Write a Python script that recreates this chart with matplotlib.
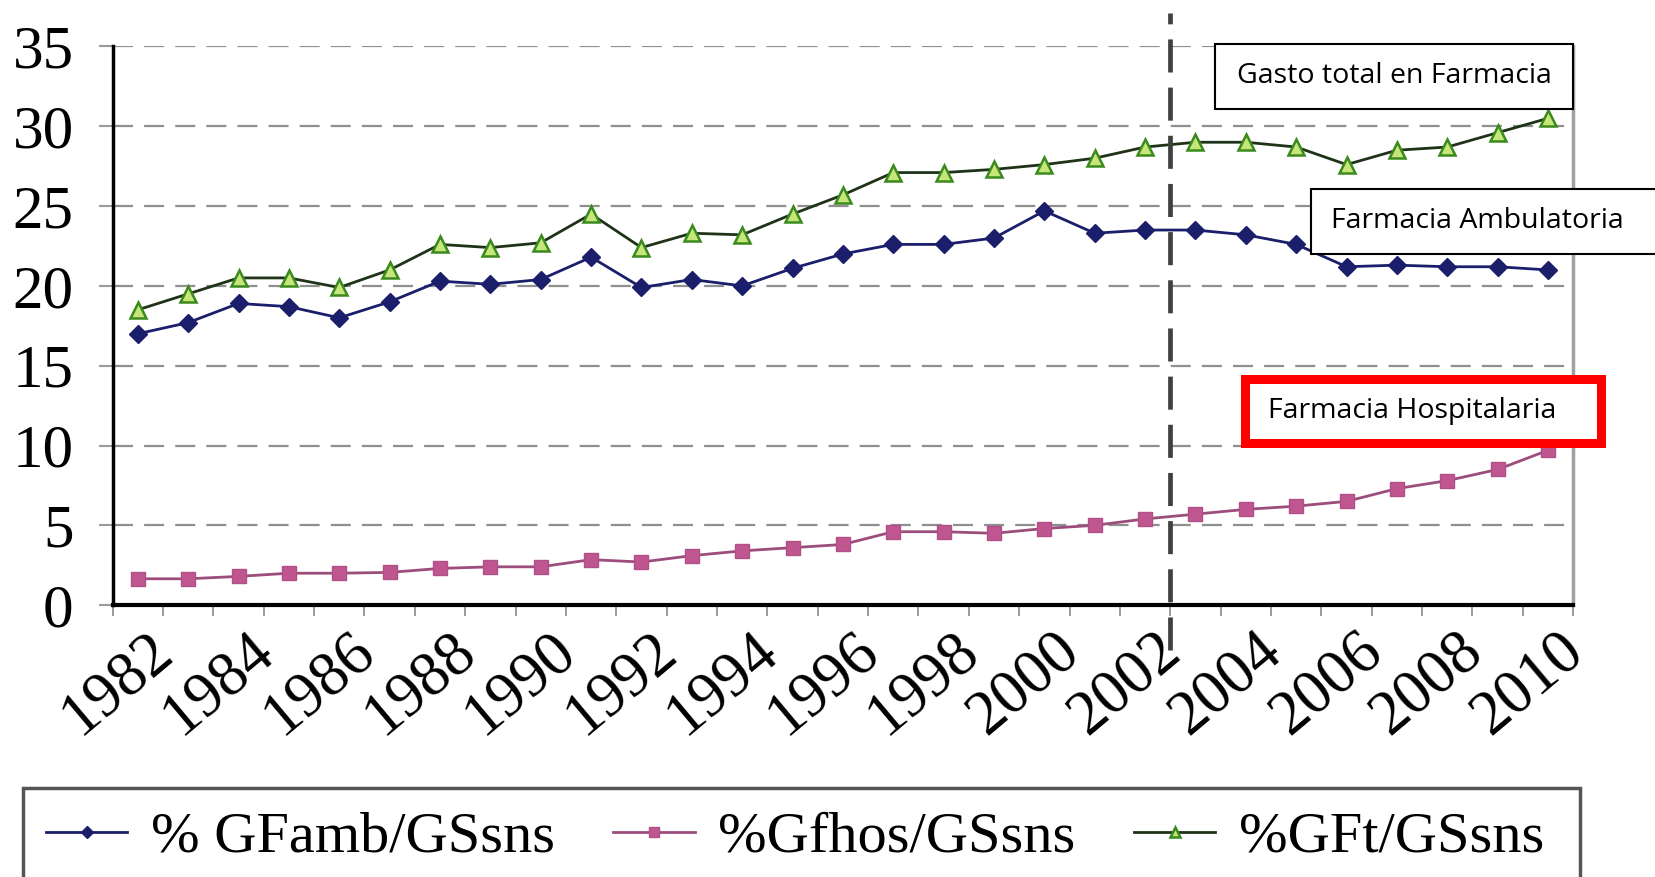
import numpy as np
import matplotlib
matplotlib.use('Agg')
import matplotlib.pyplot as plt
from matplotlib.patches import Rectangle
from matplotlib.transforms import ScaledTranslation

# Years and series (% of public health spending)
years = np.arange(1982, 2011)
gf_amb = [17.0, 17.7, 18.9, 18.7, 18.0, 19.0, 20.3, 20.1, 20.4, 21.8,
          19.9, 20.4, 20.0, 21.1, 22.0, 22.6, 22.6, 23.0, 24.7, 23.3,
          23.5, 23.5, 23.2, 22.6, 21.2, 21.3, 21.2, 21.2, 21.0]
gf_hos = [1.65, 1.65, 1.8, 2.0, 2.0, 2.05, 2.3, 2.4, 2.4, 2.85,
          2.7, 3.1, 3.4, 3.6, 3.8, 4.6, 4.6, 4.5, 4.8, 5.0,
          5.4, 5.7, 6.0, 6.2, 6.5, 7.3, 7.8, 8.5, 9.7]
gf_tot = [18.5, 19.5, 20.5, 20.5, 19.9, 21.0, 22.6, 22.4, 22.7, 24.5,
          22.4, 23.3, 23.2, 24.5, 25.7, 27.1, 27.1, 27.3, 27.6, 28.0,
          28.7, 29.0, 29.0, 28.7, 27.6, 28.5, 28.7, 29.6, 30.5]
series_labels = ['% GFamb/GSsns', '%Gfhos/GSsns', '%GFt/GSsns']
tick_years = np.arange(1982, 2011, 2)
y_ticks = np.arange(0, 36, 5)
split_year = 2002.5

SERIF = ['Liberation Serif', 'DejaVu Serif']
SANS = ['Open Sans', 'DejaVu Sans']

fig = plt.figure(figsize=(16.56, 8.77), dpi=100)
ax = fig.add_axes([0.068, 0.310, 0.882, 0.637])

ax.plot(years, gf_amb, color='#1b1f6b', lw=2.0, marker='D', ms=9,
        mfc='#1b1f6b', mec='#1b1f6b', label=series_labels[0], zorder=4)
ax.plot(years, gf_hos, color='#9c4d7c', lw=2.0, marker='s', ms=10,
        mfc='#c0568f', mec='#b05088', label=series_labels[1], zorder=4)
ax.plot(years, gf_tot, color='#1f3318', lw=2.0, marker='^', ms=12,
        mfc='#c6e67a', mec='#3a8a1e', mew=1.8, label=series_labels[2], zorder=4)

ax.set_xlim(years[0] - 0.5, years[-1] + 0.5)
ax.set_ylim(0, 35)

# dashed horizontal grid
ax.set_yticks(y_ticks)
ax.yaxis.grid(True, linestyle=(0, (9, 5)), color='#8f8f8f', lw=1.6)
ax.set_axisbelow(True)

ax.spines['top'].set_visible(False)
ax.spines['left'].set_linewidth(2.5)
ax.spines['left'].set_color('black')
ax.spines['bottom'].set_linewidth(3)
ax.spines['bottom'].set_color('black')
ax.spines['right'].set_linewidth(2.5)
ax.spines['right'].set_color('#a0a0a0')

ax.tick_params(axis='y', length=10, width=1.5, color='#9a9a9a', pad=18,
               labelsize=44)
for lbl in ax.get_yticklabels():
    lbl.set_family(SERIF)

# x ticks: small marks at category boundaries, labels every 2 years
ax.set_xticks(np.arange(years[0] - 0.5, years[-1] + 1), minor=True)
ax.tick_params(axis='x', which='minor', length=8, width=1.2, color='#8a8a8a')
ax.set_xticks(tick_years)
ax.set_xticklabels([str(y) for y in tick_years], rotation=40, ha='right',
                   va='center', rotation_mode='anchor', family=SERIF,
                   fontsize=45)
ax.tick_params(axis='x', which='major', length=0, pad=28)
offset = ScaledTranslation(28 / 100, 0, fig.dpi_scale_trans)
for lbl in ax.get_xticklabels():
    lbl.set_transform(lbl.get_transform() + offset)

# split line
ax.axvline(split_year, ymin=-0.08, ymax=1.06, clip_on=False, color='#404040',
           lw=3.4, linestyle=(0, (7, 3.2)), zorder=5)

# annotation boxes (figure fractions)
boxes = [
    ((0.7337, 0.8757), 0.2162, 0.0741, 'black', 1.5),
    ((0.7917, 0.7104), 0.2300, 0.0741, 'black', 1.5),
    ((0.7521, 0.4954), 0.2144, 0.0730, '#ff0000', 6.5),
]
for (xy, w, h, ec, lw) in boxes:
    fig.patches.append(Rectangle(xy, w, h, transform=fig.transFigure,
                                 fc='white', ec=ec, lw=lw, zorder=6))
fig.text(0.8418, 0.9133, 'Gasto total en Farmacia', ha='center', va='center',
         fontsize=20.5, family=SANS, zorder=7)
fig.text(0.892, 0.748, 'Farmacia Ambulatoria', ha='center', va='center',
         fontsize=20.5, family=SANS, zorder=7)
fig.text(0.853, 0.531, 'Farmacia Hospitalaria', ha='center', va='center',
         fontsize=20.5, family=SANS, zorder=7)

# legend with partly cut frame
fig.patches.append(Rectangle((0.014, -0.05), 0.940, 0.152,
                             transform=fig.transFigure, fill=False,
                             ec='#555555', lw=2.5))
fig.legend(loc='center', bbox_to_anchor=(0.480, 0.045), ncol=3,
           frameon=False, prop={'family': SERIF, 'size': 42},
           handlelength=1.4, columnspacing=1.0, handletextpad=0.4,
           markerscale=0.65)

fig.savefig('out.png', dpi=100)
